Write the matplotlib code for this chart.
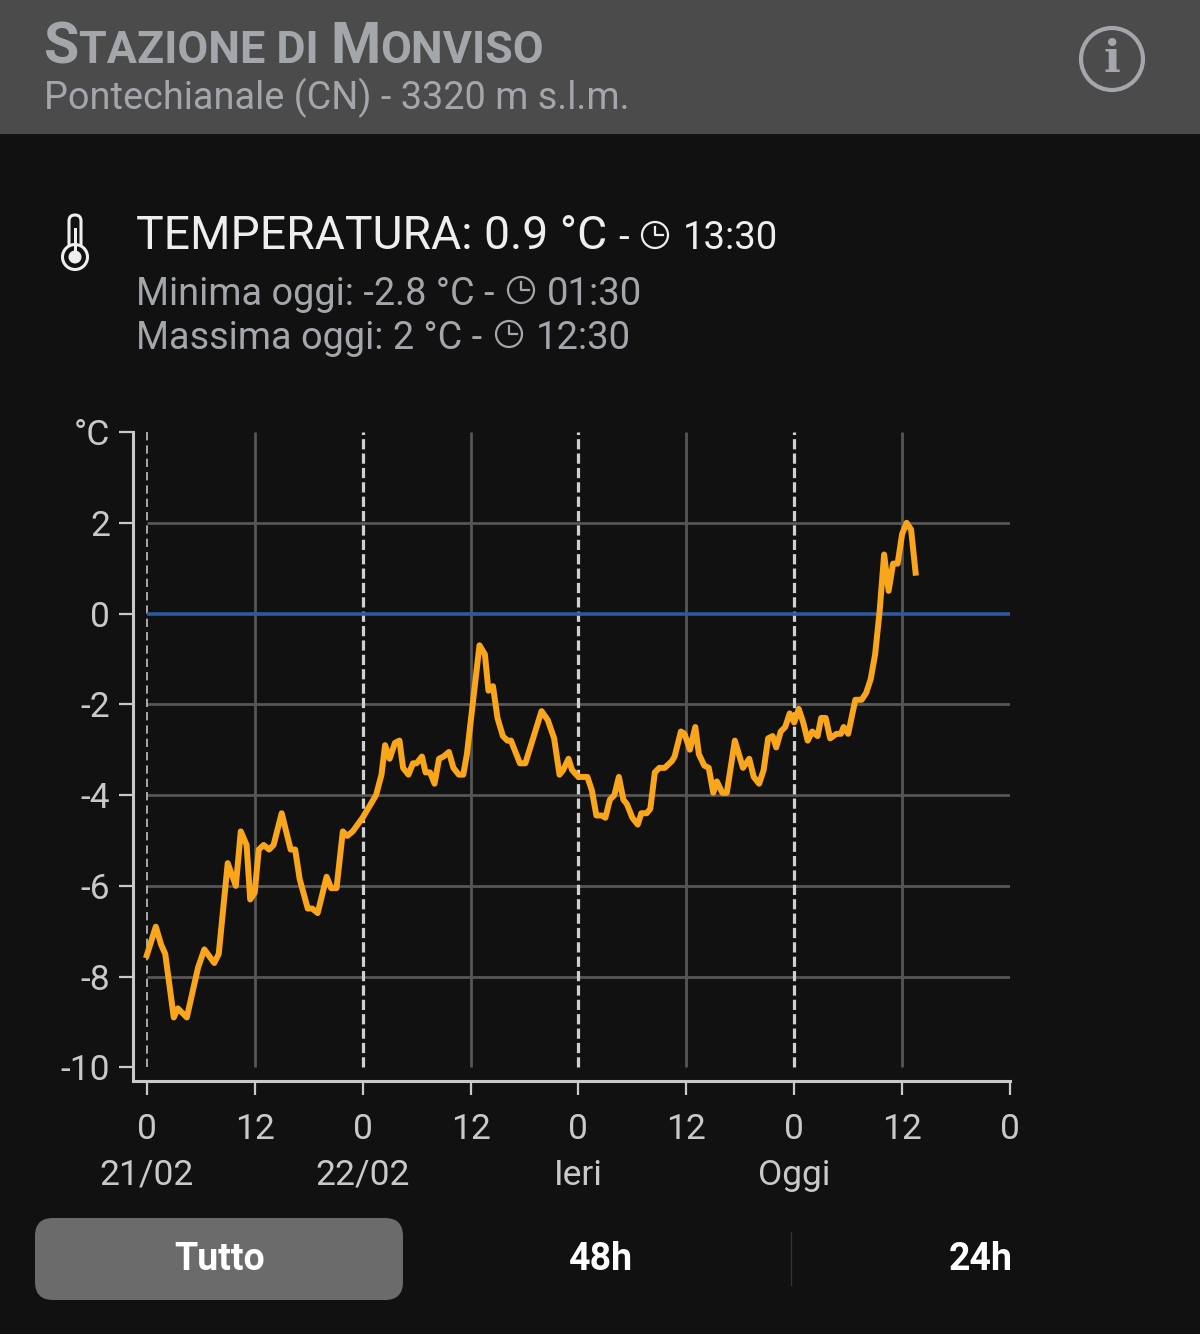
#Temperature chart of the Monviso station, phone screenshot style
import matplotlib
matplotlib.use("Agg")
import matplotlib.pyplot as plt
from matplotlib.patches import Circle, FancyBboxPatch, Rectangle

plt.rcParams['font.family'] = ['Roboto', 'DejaVu Sans']

#Hours since midnight of 21/02
hours = [0, 1, 1.6, 2.05, 3, 3.45, 4.45, 5.7, 6.4, 7.5, 8, 9, 9.9, 10.45, 11.1, 11.5, 12, 12.45, 13, 13.6,
         14.1, 15, 16, 16.5, 17, 17.9, 18.4, 19, 20, 20.5, 21.1, 21.8, 22.3, 22.9, 24, 25.5, 26.1, 26.5, 27, 27.6,
         28.1, 28.5, 29.1, 29.6, 30, 30.6, 31, 31.5, 32, 32.5, 33, 33.6, 34.1, 34.7, 35.2, 35.6, 37, 37.6, 38, 38.5,
         39, 39.6, 40.1, 40.5, 41.5, 42.1, 43.9, 44.6, 45.3, 45.9, 46.3, 46.9, 47.3, 48, 49, 49.5, 50, 50.6, 51, 51.5,
         52, 52.5, 53, 53.4, 54, 54.6, 55, 55.6, 56, 56.5, 57, 57.6, 58.4, 58.7, 59.4, 59.8, 60.4, 61, 61.4, 62,
         62.5, 63, 63.4, 64, 64.5, 65.4, 66.3, 67, 67.5, 68.1, 68.6, 69.1, 69.6, 70, 70.5, 71, 71.5, 72, 72.5, 73,
         73.5, 74, 74.6, 75, 75.5, 76, 76.7, 77.2, 77.5, 78, 78.8, 79.5, 80, 80.5, 81, 81.5, 82, 82.5, 83, 83.5,
         84, 84.5, 85, 85.5]
#Temperature in degrees C at each of those hours
temps = [-7.53, -6.9, -7.3, -7.5, -8.9, -8.7, -8.9, -7.8, -7.4, -7.7, -7.5, -5.5, -6.0, -4.8, -5.1, -6.3, -6.15, -5.2, -5.1, -5.2,
         -5.1, -4.4, -5.2, -5.2, -5.85, -6.5, -6.5, -6.6, -5.8, -6.05, -6.05, -4.8, -4.9, -4.8, -4.5, -4.0, -3.55, -2.9, -3.2, -2.85,
         -2.8, -3.4, -3.55, -3.3, -3.3, -3.15, -3.5, -3.5, -3.75, -3.2, -3.15, -3.05, -3.4, -3.55, -3.55, -3.1, -0.7, -0.9, -1.7, -1.6,
         -2.3, -2.7, -2.8, -2.8, -3.3, -3.3, -2.15, -2.35, -2.75, -3.55, -3.45, -3.2, -3.45, -3.6, -3.6, -3.9, -4.45, -4.45, -4.5, -4.1,
         -4.0, -3.6, -4.1, -4.2, -4.5, -4.65, -4.4, -4.4, -4.3, -3.5, -3.4, -3.4, -3.25, -3.15, -2.6, -2.65, -3.0, -2.5, -3.1, -3.35,
         -3.4, -3.95, -3.7, -3.95, -3.95, -2.8, -3.4, -3.2, -3.6, -3.75, -3.45, -2.75, -2.7, -2.95, -2.6, -2.5, -2.2, -2.4, -2.1, -2.4,
         -2.8, -2.6, -2.7, -2.3, -2.3, -2.75, -2.65, -2.65, -2.5, -2.65, -1.9, -1.9, -1.75, -1.45, -0.9, 0.05, 1.3, 0.5, 1.1, 1.1,
         1.75, 2.0, 1.85, 0.9]

xticks = [0, 12, 24, 36, 48, 60, 72, 84, 96]
xhour_labels = ['0', '12', '0', '12', '0', '12', '0', '12', '0']
xday_labels = ['21/02', '', '22/02', '', 'Ieri', '', 'Oggi', '', '']
yticks = [4, 2, 0, -2, -4, -6, -8, -10]
ylabels = ['°C', '2', '0', '-2', '-4', '-6', '-8', '-10']
grid_rows = [2, -2, -4, -6, -8]
solid_cols = [12, 36, 60, 84]
dashed_cols = [0, 24, 48, 72]
buttons = ['Tutto', '48h', '24h']

BG = '#111111'
HEADER = '#4b4b4b'
GREY = '#a3a6ab'
AXIS = '#c9c9c9'
W, H = 1200, 1334

fig = plt.figure(figsize=(12, 13.34), dpi=100, facecolor=BG)

#Page axes in pixels for the header, icons and buttons
page = fig.add_axes([0, 0, 1, 1])
page.set_xlim(0, W)
page.set_ylim(H, 0)
page.axis('off')

def run(x, y, pieces):
    #Writes text pieces one after the other on a baseline, returns the end x
    r = fig.canvas.get_renderer()
    for s, size, col, weight in pieces:
        t = page.text(x, y, s, fontsize=size, color=col, fontweight=weight, va='baseline', ha='left')
        x = t.get_window_extent(r).x1
    return x

def clock(x, y, r, col):
    page.add_patch(Circle((x, y), r, fc='none', ec=col, lw=1.6))
    page.plot([x, x, x + r * 0.6], [y - r * 0.65, y, y], color=col, lw=1.6)

#Header band
page.add_patch(Rectangle((0, 0), W, 134, fc=HEADER, ec='none'))
title = [('S', 41.3, GREY, 'bold'), ('TAZIONE DI ', 32.3, GREY, 'bold'), ('M', 41.3, GREY, 'bold'), ('ONVISO', 32.3, GREY, 'bold')]
run(44, 63, title)
page.text(44, 109, 'Pontechianale (CN) - 3320 m s.l.m.', fontsize=27.3, color=GREY, va='baseline')

#Info icon
page.add_patch(Circle((1112, 59), 31, fc='none', ec=GREY, lw=3))
page.text(1112, 60, 'i', fontsize=32, color=GREY, family='DejaVu Serif', fontweight='bold', ha='center', va='center')

#Thermometer icon
page.add_patch(FancyBboxPatch((69, 215), 12, 40, boxstyle='round,pad=0,rounding_size=6', fc=BG, ec='#eeeeee', lw=2.2))
page.add_patch(Circle((75, 257), 12.5, fc=BG, ec='#eeeeee', lw=2.2))
page.add_patch(Rectangle((73.5, 228), 3, 28, fc='#eeeeee', ec='none'))
page.add_patch(Circle((75, 257), 6.5, fc='#eeeeee', ec='none'))

#Current, minimum and maximum readings
page.text(136, 249, 'TEMPERATURA: 0.9 °C', fontsize=33.3, color='#eeeeee', va='baseline')
page.text(618, 249, '-', fontsize=27.5, color='#eeeeee', va='baseline')
clock(655, 235, 13, '#eeeeee')
page.text(683, 249, '13:30', fontsize=27.5, color='#eeeeee', va='baseline')

page.text(136, 305, 'Minima oggi: -2.8 °C -', fontsize=27.3, color=GREY, va='baseline')
clock(521, 290, 13, GREY)
page.text(547, 305, '01:30', fontsize=27.5, color=GREY, va='baseline')

page.text(136, 349, 'Massima oggi: 2 °C -', fontsize=27.3, color=GREY, va='baseline')
clock(509, 334, 13, GREY)
page.text(536, 349, '12:30', fontsize=27.5, color=GREY, va='baseline')

#Buttons under the chart
page.add_patch(FancyBboxPatch((35, 1218), 368, 82, boxstyle='round,pad=0,rounding_size=18', fc='#6b6b6b', ec='none'))
page.plot([791, 791], [1232, 1285], color='#333333', lw=1)
for x, s in zip([220, 601, 981], buttons):
    page.text(x, 1259, s, fontsize=27, color='white', fontweight='bold', ha='center', va='center')

#Chart axes: 8.99 px per hour from x=146.8, 45.4 px per degree from y=613.5
left, right, top, bottom = 132.5, 1010, 432, 1081
ax = fig.add_axes([left / W, 1 - bottom / H, (right - left) / W, (bottom - top) / H])
ax.patch.set_alpha(0)
ax.set_xlim((left - 146.8) / 8.99, 96)
ax.set_ylim(-10.3, 4)

ax.hlines(grid_rows, 0, 96, color='#565656', lw=2)
ax.vlines(solid_cols, -10, 4, color='#565656', lw=2)
ax.vlines(dashed_cols[0], -10, 4, color='#c4c4c4', lw=1.2, linestyles=(0, (5, 3)))
ax.vlines(dashed_cols[1:], -10, 4, color='#d0d0d0', lw=2.3, linestyles=(0, (3.2, 1.3)))
ax.hlines(0, 0, 96, color='#2c5a9e', lw=2.6)
ax.plot(hours, temps, color='#f9a61c', lw=4.3, solid_joinstyle='round')

ax.set_xticks(xticks)
ax.set_xticklabels([a + '\n' + b for a, b in zip(xhour_labels, xday_labels)], linespacing=1.5)
ax.set_yticks(yticks)
ax.set_yticklabels(ylabels)
ax.tick_params(axis='both', colors=AXIS, labelsize=25.5, length=10, width=1.6)
ax.tick_params(axis='x', pad=13)
ax.tick_params(axis='y', pad=6)
ax.spines['top'].set_visible(False)
ax.spines['right'].set_visible(False)
ax.spines['left'].set_color(AXIS)
ax.spines['bottom'].set_color(AXIS)
ax.spines['left'].set_linewidth(2.2)
ax.spines['bottom'].set_linewidth(2.2)

fig.savefig('out.png', dpi=100, facecolor=BG)
